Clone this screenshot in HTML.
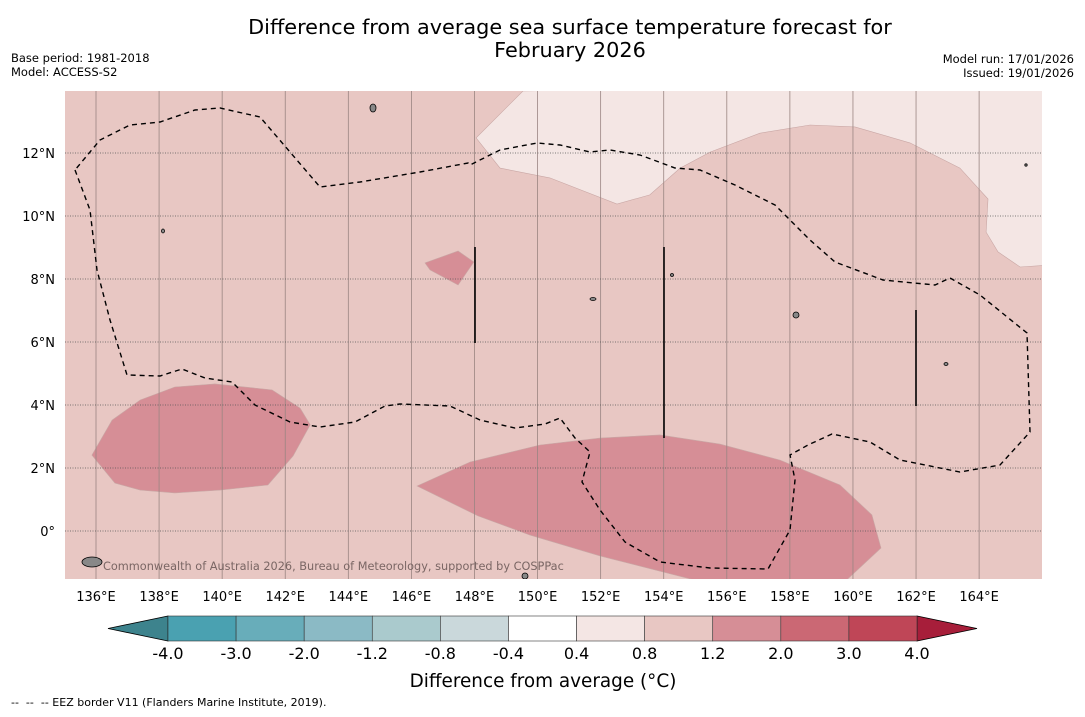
<!DOCTYPE html>
<html><head><meta charset="utf-8"><style>
body{margin:0;background:#fff;font-family:"DejaVu Sans","Liberation Sans",sans-serif;}
svg text{font-family:"DejaVu Sans","Liberation Sans",sans-serif;}
</style></head><body>
<svg id="c" width="1085" height="713" xmlns="http://www.w3.org/2000/svg">
<rect width="1085" height="713" fill="#fff"/>
<text x="570" y="34" font-size="20.8" text-anchor="middle">Difference from average sea surface temperature forecast for</text>
<text x="570" y="57" font-size="20.8" text-anchor="middle">February 2026</text>
<text x="11" y="62" font-size="11.5">Base period: 1981-2018</text>
<text x="11" y="76" font-size="11.5">Model: ACCESS-S2</text>
<text x="1074" y="63" font-size="11.5" text-anchor="end">Model run: 17/01/2026</text>
<text x="1074" y="77" font-size="11.5" text-anchor="end">Issued: 19/01/2026</text>
<defs><clipPath id="mc"><rect x="65" y="91" width="977" height="488"/></clipPath></defs>
<g id="map" clip-path="url(#mc)"></g>
<g id="axes"></g>
<g id="cbar"></g>
<text x="543" y="687" font-size="18.4" text-anchor="middle">Difference from average (°C)</text>
<text x="11" y="706" font-size="11" xml:space="preserve">--  --  -- EEZ border V11 (Flanders Marine Institute, 2019).</text>
</svg>
<script>
const lonTicks=[136,138,140,142,144,146,148,150,152,154,156,158,160,162,164];
const latTicks=[0,2,4,6,8,10,12];
const levels=["-4.0","-3.0","-2.0","-1.2","-0.8","-0.4","0.4","0.8","1.2","2.0","3.0","4.0"];
const levelColors=["#4aa1b1","#68adba","#8bbac5","#aacacd","#cad8db","#ffffff","#f4e6e4","#e8c7c3","#d68e96","#cb6874","#bf4657"];
const NS="http://www.w3.org/2000/svg";
const X=lon=>96+(lon-136)*31.54, Y=lat=>531-lat*31.5;
function mk(t,a,p){const e=document.createElementNS(NS,t);for(const k in a)e.setAttribute(k,a[k]);p.appendChild(e);return e;}
const map=document.getElementById('map'),axes=document.getElementById('axes'),cb=document.getElementById('cbar');
let r=mk('rect',{x:65,y:91,width:977,height:488,fill:'#e8c7c3'},map);


const lightRegion=[[149.54,13.97],[148.05,12.48],[148.81,11.52],[150.39,11.21],[152.52,10.38],[153.56,10.67],[154.52,11.52],[155.47,12.03],[157.05,12.63],[158.64,12.89],[160.06,12.83],[161.81,12.32],[163.39,11.52],[164.28,10.54],[164.22,9.49],[164.6,8.86],[165.3,8.38],[166.2,8.44],[166.2,14.2]];
const darkLeft=[[135.87,2.41],[136.51,3.52],[137.4,4.16],[138.5,4.57],[139.77,4.67],[141.58,4.48],[142.47,3.9],[142.79,3.37],[142.25,2.38],[141.45,1.46],[139.93,1.3],[138.5,1.21],[137.4,1.3],[136.6,1.52]];
const darkBottom=[[146.18,1.43],[147.86,2.19],[150.08,2.73],[151.98,2.95],[153.88,3.05],[155.78,2.76],[157.69,2.25],[159.59,1.46],[160.6,0.51],[160.89,-0.54],[159.75,-1.6],[155.15,-1.6],[151.98,-0.79],[149.76,-0.13],[148.11,0.48]];
const darkSmall=[[146.43,8.51],[147.48,8.89],[147.98,8.54],[147.48,7.81],[146.59,8.29]];
const pts=a=>a.map(p=>X(p[0]).toFixed(1)+','+Y(p[1]).toFixed(1)).join(' ');
[[lightRegion,'#f4e6e4','region-0.4-0.8'],[darkLeft,'#d68e96','region-1.2-2.0-west'],[darkBottom,'#d68e96','region-1.2-2.0-south'],[darkSmall,'#d68e96','region-1.2-2.0-small']].forEach(d=>{
 const p=mk('polygon',{points:pts(d[0]),fill:d[1],stroke:'#c9a7a5','stroke-width':0.6},map);
 
 
});
lonTicks.forEach(l=>{const g=mk('line',{x1:X(l),x2:X(l),y1:91,y2:579,stroke:'#9a8582','stroke-width':0.8},map);
 
 });
latTicks.forEach(l=>{const g=mk('line',{x1:65,x2:1042,y1:Y(l),y2:Y(l),stroke:'#555','stroke-width':0.8,'stroke-dasharray':'1,1.5'},map);
 
 });
const eez=[[75,170],[90,210],[97,270],[110,320],[127,375],[160,376],[182,369],[205,378],[232,382],[255,405],[290,422],[320,427],[355,422],[385,406],[400,404],[450,406],[480,420],[515,428],[545,424],[560,418],[575,438],[590,452],[582,482],[600,510],[625,542],[660,562],[710,568],[768,569],[790,530],[795,480],[790,455],[808,445],[832,434],[870,442],[900,460],[960,472],[1000,465],[1030,432],[1027,333],[980,295],[950,278],[935,285],[883,280],[835,262],[810,240],[775,205],[735,185],[700,170],[675,168],[640,155],[610,150],[590,152],[560,145],[537,143],[500,150],[470,165],[468,163],[420,172],[360,182],[320,187],[260,117],[220,108],[195,110],[160,122],[130,125],[100,140],[75,170]];
let e=mk('polyline',{points:eez.map(p=>p.join(',')).join(' '),fill:'none',stroke:'#000','stroke-width':1.4,'stroke-dasharray':'5,4'},map);


[[475,247,343],[664,247,438],[916,310,406]].forEach((v,i)=>{const l=mk('line',{x1:v[0],x2:v[0],y1:v[1],y2:v[2],stroke:'#000','stroke-width':1.6},map);
 
 });
[[373,108,3,4],[796,315,3,3],[946,364,2,1.5],[593,299,3,1.5],[163,231,1.5,2],[92,562,10,5],[525,576,3,3],[672,275,1.5,1.5],[1026,165,1.2,1.2]].forEach((v,i)=>{const o=mk('ellipse',{cx:v[0],cy:v[1],rx:v[2],ry:v[3],fill:'#888',stroke:'#000','stroke-width':0.8},map);
 
 });
let cr=mk('text',{x:103,y:570,'font-size':11.3,fill:'#7a6664'},map);cr.textContent='Commonwealth of Australia 2026, Bureau of Meteorology, supported by COSPPac';


lonTicks.forEach(l=>{const t=mk('text',{x:X(l),y:601,'font-size':13,'text-anchor':'middle'},axes);t.textContent=l+'°E';
 
 });
latTicks.forEach(l=>{const t=mk('text',{x:55,y:Y(l)+5,'font-size':13,'text-anchor':'end'},axes);t.textContent=l===0?'0°':l+'°N';
 
 });
const cx0=168,cx1=917,cy=616,ch=25,n=levelColors.length,w=(cx1-cx0)/n;
let ext=mk('polygon',{points:`${cx0},${cy} ${cx0},${cy+ch} 108,${cy+ch/2}`,fill:'#3d838d',stroke:'#000','stroke-width':0.8},cb);


ext=mk('polygon',{points:`${cx1},${cy} ${cx1},${cy+ch} 977,${cy+ch/2}`,fill:'#a71e3a',stroke:'#000','stroke-width':0.8},cb);


levelColors.forEach((c,i)=>{const b=mk('rect',{x:cx0+i*w,y:cy,width:w,height:ch,fill:c,stroke:'#333','stroke-width':0.6},cb);
 
 });
levels.forEach((s,i)=>{const t=mk('text',{x:cx0+i*w,y:659,'font-size':16,'text-anchor':'middle'},cb);t.textContent=s;
 
 });
</script>
</body></html>
